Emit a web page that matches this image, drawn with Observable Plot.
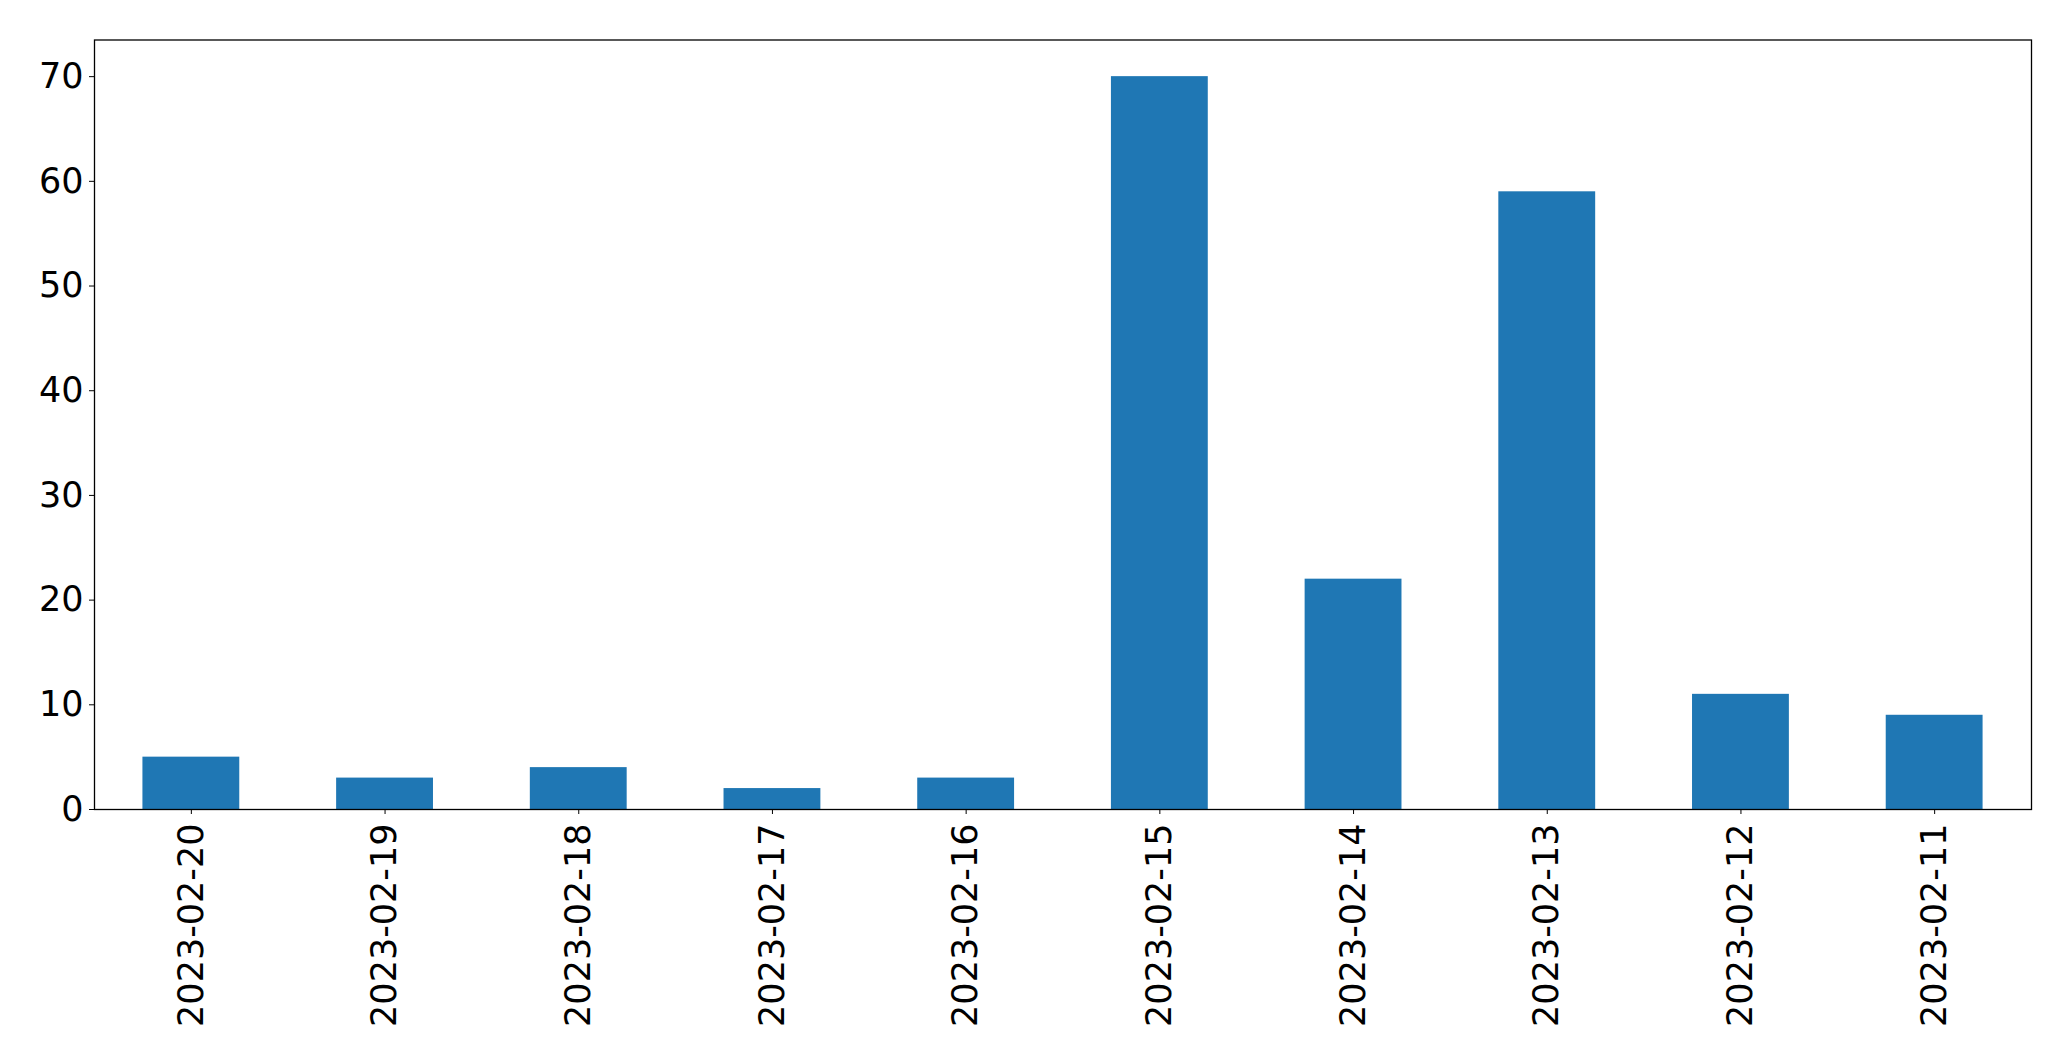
<!DOCTYPE html>
<html>
<head>
<meta charset="utf-8">
<script src="https://cdn.jsdelivr.net/npm/d3@7"></script>
<script src="https://cdn.jsdelivr.net/npm/@observablehq/plot@0.6"></script>
<style>
  html, body { margin: 0; padding: 0; background: #fff; }
</style>
</head>
<body>
<div id="chart"></div>
<script>
const dates = ["2023-02-20","2023-02-19","2023-02-18","2023-02-17","2023-02-16","2023-02-15","2023-02-14","2023-02-13","2023-02-12","2023-02-11"];
const counts = [5, 3, 4, 2, 3, 70, 22, 59, 11, 9];
const yTicks = [0, 10, 20, 30, 40, 50, 60, 70];

const data = dates.map((d, i) => ({date: d, count: counts[i]}));

const chart = Plot.plot({
  width: 2071,
  height: 1061,
  marginLeft: 94,
  marginRight: 40,
  marginTop: 39.5,
  marginBottom: 252,
  style: {fontFamily: "DejaVu Sans", fontSize: "35px", color: "#000", background: "#fff"},
  x: {domain: dates, paddingInner: 0.5, paddingOuter: 0.25, round: false, label: null},
  y: {domain: [0, 73.5], label: null},
  marks: [
    Plot.barY(data, {x: "date", y: "count", fill: "#1f77b4"}),
    Plot.axisY({ticks: yTicks, tickSize: 5, tickPadding: 6, fontSize: 35, label: null, tickFormat: d => String(d)}),
    Plot.axisX({tickSize: 5, tickPadding: 9, tickRotate: -90, fontSize: 35, label: null}),
    Plot.frame({stroke: "#000", strokeWidth: 1.3})
  ]
});
document.getElementById("chart").appendChild(chart);
</script>
</body>
</html>
